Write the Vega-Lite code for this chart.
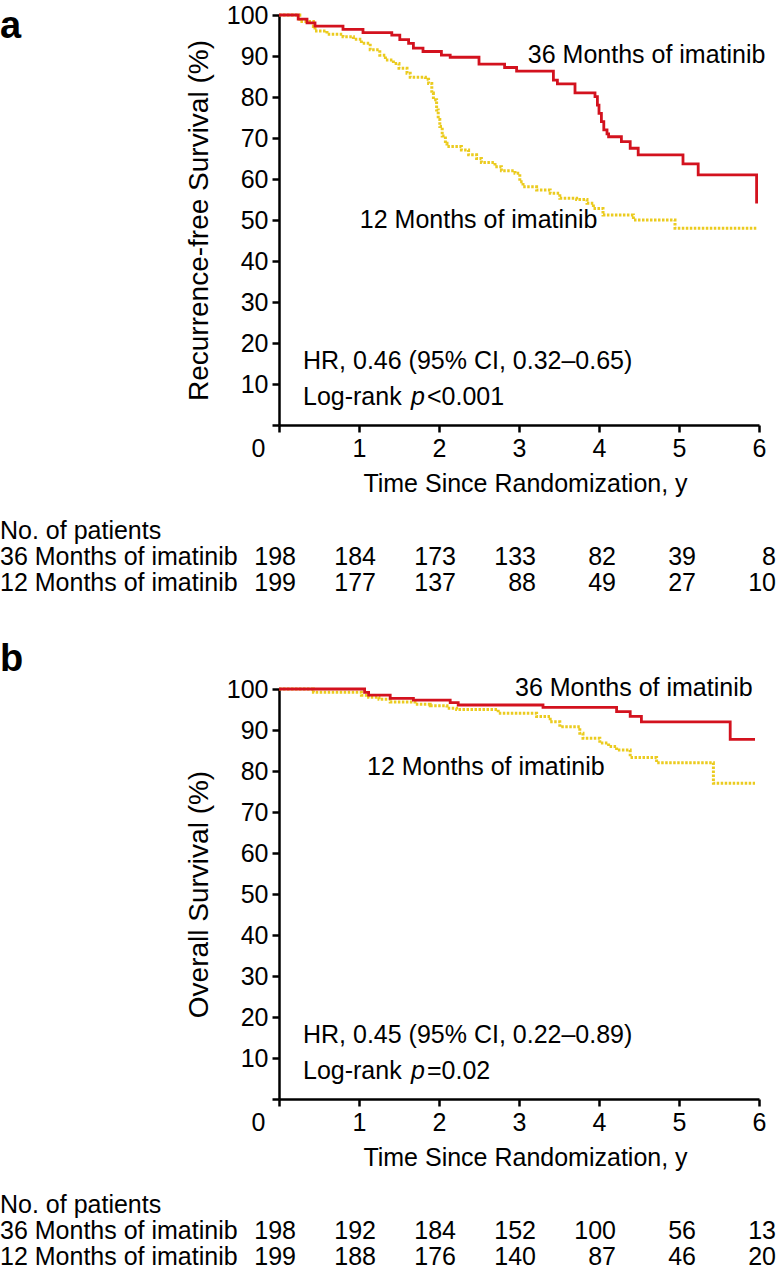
{
  "$schema": "https://vega.github.io/schema/vega-lite/v6.json",
  "padding": {"left": 0, "top": 3, "right": 0, "bottom": 0},
  "bounds": "flush",
  "spacing": 106,
  "config": {
    "font": "Liberation Sans",
    "view": {"stroke": null},
    "text": {"font": "Liberation Sans", "fontSize": 25, "color": "black"},
    "axis": {
      "domainColor": "black", "domainWidth": 2.5, "tickColor": "black", "tickWidth": 2.5, "tickSize": 7,
      "labelFont": "Liberation Sans", "labelFontSize": 25, "labelColor": "black", "labelPadding": 4,
      "titleFont": "Liberation Sans", "titleFontSize": 25, "titleColor": "black", "titleFontWeight": "normal",
      "grid": false
    }
  },
  "datasets": {
    "kmA": [
      {"arm": "36", "t": 0, "s": 100}, {"arm": "36", "t": 0.24, "s": 99.0}, {"arm": "36", "t": 0.35, "s": 98.1},
      {"arm": "36", "t": 0.45, "s": 97.3}, {"arm": "36", "t": 0.8, "s": 96.5}, {"arm": "36", "t": 1.05, "s": 95.7},
      {"arm": "36", "t": 1.41, "s": 95.1}, {"arm": "36", "t": 1.51, "s": 94.0}, {"arm": "36", "t": 1.62, "s": 93.1},
      {"arm": "36", "t": 1.68, "s": 91.9}, {"arm": "36", "t": 1.8, "s": 91.1}, {"arm": "36", "t": 2.03, "s": 90.2},
      {"arm": "36", "t": 2.14, "s": 89.7}, {"arm": "36", "t": 2.5, "s": 88.0}, {"arm": "36", "t": 2.82, "s": 87.2},
      {"arm": "36", "t": 2.97, "s": 86.3}, {"arm": "36", "t": 3.43, "s": 84.1}, {"arm": "36", "t": 3.48, "s": 83.2},
      {"arm": "36", "t": 3.7, "s": 81.0}, {"arm": "36", "t": 3.95, "s": 80.1}, {"arm": "36", "t": 3.98, "s": 78.0},
      {"arm": "36", "t": 4.0, "s": 76.0}, {"arm": "36", "t": 4.03, "s": 74.0}, {"arm": "36", "t": 4.06, "s": 72.0},
      {"arm": "36", "t": 4.1, "s": 71.0}, {"arm": "36", "t": 4.12, "s": 70.3}, {"arm": "36", "t": 4.28, "s": 69.1},
      {"arm": "36", "t": 4.39, "s": 67.5}, {"arm": "36", "t": 4.49, "s": 65.9}, {"arm": "36", "t": 5.05, "s": 63.7},
      {"arm": "36", "t": 5.24, "s": 61.0}, {"arm": "36", "t": 5.97, "s": 54.0},
      {"arm": "12", "t": 0, "s": 100}, {"arm": "12", "t": 0.26, "s": 98.4}, {"arm": "12", "t": 0.43, "s": 97.2},
      {"arm": "12", "t": 0.45, "s": 96.1}, {"arm": "12", "t": 0.6, "s": 95.3}, {"arm": "12", "t": 0.8, "s": 94.7},
      {"arm": "12", "t": 0.93, "s": 94.1}, {"arm": "12", "t": 1.03, "s": 93.1}, {"arm": "12", "t": 1.14, "s": 91.5},
      {"arm": "12", "t": 1.26, "s": 90.2}, {"arm": "12", "t": 1.33, "s": 89.0}, {"arm": "12", "t": 1.43, "s": 88.2},
      {"arm": "12", "t": 1.5, "s": 87.0}, {"arm": "12", "t": 1.6, "s": 85.8}, {"arm": "12", "t": 1.64, "s": 84.8},
      {"arm": "12", "t": 1.83, "s": 84.3}, {"arm": "12", "t": 1.87, "s": 83.3}, {"arm": "12", "t": 1.91, "s": 81.0},
      {"arm": "12", "t": 1.93, "s": 79.3}, {"arm": "12", "t": 1.97, "s": 76.8}, {"arm": "12", "t": 1.99, "s": 74.5},
      {"arm": "12", "t": 2.01, "s": 72.8}, {"arm": "12", "t": 2.04, "s": 70.5}, {"arm": "12", "t": 2.08, "s": 68.7},
      {"arm": "12", "t": 2.1, "s": 67.9}, {"arm": "12", "t": 2.28, "s": 67.1}, {"arm": "12", "t": 2.37, "s": 65.9},
      {"arm": "12", "t": 2.47, "s": 65.0}, {"arm": "12", "t": 2.53, "s": 64.0}, {"arm": "12", "t": 2.7, "s": 63.0},
      {"arm": "12", "t": 2.78, "s": 62.0}, {"arm": "12", "t": 2.95, "s": 61.4}, {"arm": "12", "t": 3.01, "s": 59.3},
      {"arm": "12", "t": 3.05, "s": 58.1}, {"arm": "12", "t": 3.22, "s": 57.3}, {"arm": "12", "t": 3.39, "s": 56.5},
      {"arm": "12", "t": 3.51, "s": 55.3}, {"arm": "12", "t": 3.72, "s": 55.0}, {"arm": "12", "t": 3.85, "s": 54.1},
      {"arm": "12", "t": 3.93, "s": 52.8}, {"arm": "12", "t": 4.05, "s": 51.2}, {"arm": "12", "t": 4.43, "s": 50.0},
      {"arm": "12", "t": 4.95, "s": 48.0}, {"arm": "12", "t": 5.97, "s": 48.0}
    ],
    "kmB": [
      {"arm": "36", "t": 0, "s": 100}, {"arm": "36", "t": 1.07, "s": 99.2}, {"arm": "36", "t": 1.12, "s": 98.5},
      {"arm": "36", "t": 1.39, "s": 97.7}, {"arm": "36", "t": 1.68, "s": 97.3}, {"arm": "36", "t": 2.14, "s": 96.7},
      {"arm": "36", "t": 2.24, "s": 96.1}, {"arm": "36", "t": 3.3, "s": 95.5}, {"arm": "36", "t": 4.22, "s": 94.5},
      {"arm": "36", "t": 4.39, "s": 93.3}, {"arm": "36", "t": 4.53, "s": 92.0}, {"arm": "36", "t": 5.64, "s": 87.7},
      {"arm": "36", "t": 5.95, "s": 87.7},
      {"arm": "12", "t": 0, "s": 100}, {"arm": "12", "t": 0.43, "s": 99.2}, {"arm": "12", "t": 1.03, "s": 98.5},
      {"arm": "12", "t": 1.12, "s": 98.0}, {"arm": "12", "t": 1.25, "s": 97.5}, {"arm": "12", "t": 1.39, "s": 96.8},
      {"arm": "12", "t": 1.7, "s": 96.3}, {"arm": "12", "t": 1.89, "s": 95.9}, {"arm": "12", "t": 2.1, "s": 95.3},
      {"arm": "12", "t": 2.22, "s": 95.0}, {"arm": "12", "t": 2.74, "s": 94.1}, {"arm": "12", "t": 3.22, "s": 93.3},
      {"arm": "12", "t": 3.39, "s": 92.0}, {"arm": "12", "t": 3.51, "s": 90.8}, {"arm": "12", "t": 3.76, "s": 89.2},
      {"arm": "12", "t": 3.8, "s": 88.0}, {"arm": "12", "t": 4.01, "s": 86.8}, {"arm": "12", "t": 4.12, "s": 86.0},
      {"arm": "12", "t": 4.22, "s": 85.1}, {"arm": "12", "t": 4.39, "s": 83.3}, {"arm": "12", "t": 4.72, "s": 82.0},
      {"arm": "12", "t": 5.43, "s": 77.0}, {"arm": "12", "t": 5.95, "s": 77.0}
    ],
    "annA": [
      {"text": "36 Months of imatinib", "t": 3.11, "s": 90.2},
      {"text": "12 Months of imatinib", "t": 1.01, "s": 50.0},
      {"text": "HR, 0.46 (95% CI, 0.32–0.65)", "t": 0.3, "s": 15.5},
      {"text": "Log-rank", "t": 0.3, "s": 6.8},
      {"text": "<0.001", "t": 1.85, "s": 6.8}
    ],
    "annB": [
      {"text": "36 Months of imatinib", "t": 2.95, "s": 100.2},
      {"text": "12 Months of imatinib", "t": 1.1, "s": 81.0},
      {"text": "HR, 0.45 (95% CI, 0.22–0.89)", "t": 0.3, "s": 15.5},
      {"text": "Log-rank", "t": 0.3, "s": 6.8},
      {"text": "=0.02", "t": 1.85, "s": 6.8}
    ],
    "pItalic": [{"text": "p", "t": 1.65, "s": 6.8}],
    "rows": [
      {"row": "No. of patients"},
      {"row": "36 Months of imatinib"},
      {"row": "12 Months of imatinib"}
    ],
    "riskA": [
      {"row": "36 Months of imatinib", "t": 0, "n": 198}, {"row": "36 Months of imatinib", "t": 1, "n": 184},
      {"row": "36 Months of imatinib", "t": 2, "n": 173}, {"row": "36 Months of imatinib", "t": 3, "n": 133},
      {"row": "36 Months of imatinib", "t": 4, "n": 82}, {"row": "36 Months of imatinib", "t": 5, "n": 39},
      {"row": "36 Months of imatinib", "t": 6, "n": 8},
      {"row": "12 Months of imatinib", "t": 0, "n": 199}, {"row": "12 Months of imatinib", "t": 1, "n": 177},
      {"row": "12 Months of imatinib", "t": 2, "n": 137}, {"row": "12 Months of imatinib", "t": 3, "n": 88},
      {"row": "12 Months of imatinib", "t": 4, "n": 49}, {"row": "12 Months of imatinib", "t": 5, "n": 27},
      {"row": "12 Months of imatinib", "t": 6, "n": 10}
    ],
    "riskB": [
      {"row": "36 Months of imatinib", "t": 0, "n": 198}, {"row": "36 Months of imatinib", "t": 1, "n": 192},
      {"row": "36 Months of imatinib", "t": 2, "n": 184}, {"row": "36 Months of imatinib", "t": 3, "n": 152},
      {"row": "36 Months of imatinib", "t": 4, "n": 100}, {"row": "36 Months of imatinib", "t": 5, "n": 56},
      {"row": "36 Months of imatinib", "t": 6, "n": 13},
      {"row": "12 Months of imatinib", "t": 0, "n": 199}, {"row": "12 Months of imatinib", "t": 1, "n": 188},
      {"row": "12 Months of imatinib", "t": 2, "n": 176}, {"row": "12 Months of imatinib", "t": 3, "n": 140},
      {"row": "12 Months of imatinib", "t": 4, "n": 87}, {"row": "12 Months of imatinib", "t": 5, "n": 46},
      {"row": "12 Months of imatinib", "t": 6, "n": 20}
    ],
    "letterA": [{"letter": "a"}],
    "letterB": [{"letter": "b"}]
  },
  "vconcat": [
    {
      "width": 480, "height": 410,
      "layer": [
        {"data": {"name": "kmA"}, "transform": [{"filter": "datum.arm === '12'"}],
          "mark": {"type": "line", "interpolate": "step-after", "color": "#EBCB1F", "strokeWidth": 3, "strokeDash": [2.5, 1.5]},
          "encoding": {
            "x": {"field": "t", "type": "quantitative", "scale": {"domain": [0, 6], "nice": false},
              "axis": {"values": [0, 1, 2, 3, 4, 5, 6], "format": "d", "title": "Time Since Randomization, y", "labelFlush": false,
                "labelOffset": {"condition": {"test": "datum.value === 0", "value": -21}, "value": 0}, "titlePadding": 10, "titleX": 246}},
            "y": {"field": "s", "type": "quantitative", "scale": {"domain": [0, 100], "nice": false},
              "axis": {"values": [0, 10, 20, 30, 40, 50, 60, 70, 80, 90, 100], "format": "d", "labelExpr": "datum.value === 0 ? '' : datum.label",
                "title": "Recurrence-free Survival (%)", "titleFontSize": 28, "titlePadding": 13}}
          }},
        {"data": {"name": "kmA"}, "transform": [{"filter": "datum.arm === '36'"}],
          "mark": {"type": "line", "interpolate": "step-after", "color": "#D3121E", "strokeWidth": 2.8},
          "encoding": {"x": {"field": "t", "type": "quantitative"}, "y": {"field": "s", "type": "quantitative"}}},
        {"data": {"name": "annA"}, "mark": {"type": "text", "align": "left", "baseline": "middle"},
          "encoding": {"x": {"field": "t", "type": "quantitative"}, "y": {"field": "s", "type": "quantitative"}, "text": {"field": "text"}}},
        {"data": {"name": "pItalic"}, "mark": {"type": "text", "align": "left", "baseline": "middle", "fontStyle": "italic"},
          "encoding": {"x": {"field": "t", "type": "quantitative"}, "y": {"field": "s", "type": "quantitative"}, "text": {"field": "text"}}},
        {"data": {"name": "letterA"}, "mark": {"type": "text", "fontWeight": "bold", "fontSize": 38, "align": "left", "baseline": "alphabetic", "dx": -279, "dy": 23},
          "encoding": {"x": {"datum": 0, "type": "quantitative"}, "y": {"datum": 100, "type": "quantitative"}, "text": {"field": "letter"}}}
      ]
    },
    {
      "width": 480, "height": 52,
      "layer": [
        {"data": {"name": "rows"}, "mark": {"type": "text", "align": "left", "baseline": "middle", "dx": -279},
          "encoding": {
            "x": {"datum": 0, "type": "quantitative", "scale": {"domain": [0, 6], "nice": false}, "axis": null},
            "y": {"field": "row", "type": "ordinal", "scale": {"type": "point", "domain": ["No. of patients", "36 Months of imatinib", "12 Months of imatinib"], "padding": 0}, "axis": null},
            "text": {"field": "row"}}},
        {"data": {"name": "riskA"}, "mark": {"type": "text", "align": "right", "baseline": "middle", "dx": 17},
          "encoding": {
            "x": {"field": "t", "type": "quantitative", "scale": {"domain": [0, 6], "nice": false}, "axis": null},
            "y": {"field": "row", "type": "ordinal", "scale": {"type": "point", "domain": ["No. of patients", "36 Months of imatinib", "12 Months of imatinib"], "padding": 0}, "axis": null},
            "text": {"field": "n"}}}
      ]
    },
    {
      "width": 480, "height": 410,
      "layer": [
        {"data": {"name": "kmB"}, "transform": [{"filter": "datum.arm === '12'"}],
          "mark": {"type": "line", "interpolate": "step-after", "color": "#EBCB1F", "strokeWidth": 3, "strokeDash": [2.5, 1.5]},
          "encoding": {
            "x": {"field": "t", "type": "quantitative", "scale": {"domain": [0, 6], "nice": false},
              "axis": {"values": [0, 1, 2, 3, 4, 5, 6], "format": "d", "title": "Time Since Randomization, y", "labelFlush": false,
                "labelOffset": {"condition": {"test": "datum.value === 0", "value": -21}, "value": 0}, "titlePadding": 10, "titleX": 246}},
            "y": {"field": "s", "type": "quantitative", "scale": {"domain": [0, 100], "nice": false},
              "axis": {"values": [0, 10, 20, 30, 40, 50, 60, 70, 80, 90, 100], "format": "d", "labelExpr": "datum.value === 0 ? '' : datum.label",
                "title": "Overall Survival (%)", "titleFontSize": 28, "titlePadding": 13}}
          }},
        {"data": {"name": "kmB"}, "transform": [{"filter": "datum.arm === '36'"}],
          "mark": {"type": "line", "interpolate": "step-after", "color": "#D3121E", "strokeWidth": 2.8},
          "encoding": {"x": {"field": "t", "type": "quantitative"}, "y": {"field": "s", "type": "quantitative"}}},
        {"data": {"name": "annB"}, "mark": {"type": "text", "align": "left", "baseline": "middle"},
          "encoding": {"x": {"field": "t", "type": "quantitative"}, "y": {"field": "s", "type": "quantitative"}, "text": {"field": "text"}}},
        {"data": {"name": "pItalic"}, "mark": {"type": "text", "align": "left", "baseline": "middle", "fontStyle": "italic"},
          "encoding": {"x": {"field": "t", "type": "quantitative"}, "y": {"field": "s", "type": "quantitative"}, "text": {"field": "text"}}},
        {"data": {"name": "letterB"}, "mark": {"type": "text", "fontWeight": "bold", "fontSize": 38, "align": "left", "baseline": "alphabetic", "dx": -279, "dy": -18},
          "encoding": {"x": {"datum": 0, "type": "quantitative"}, "y": {"datum": 100, "type": "quantitative"}, "text": {"field": "letter"}}}
      ]
    },
    {
      "width": 480, "height": 52,
      "layer": [
        {"data": {"name": "rows"}, "mark": {"type": "text", "align": "left", "baseline": "middle", "dx": -279},
          "encoding": {
            "x": {"datum": 0, "type": "quantitative", "scale": {"domain": [0, 6], "nice": false}, "axis": null},
            "y": {"field": "row", "type": "ordinal", "scale": {"type": "point", "domain": ["No. of patients", "36 Months of imatinib", "12 Months of imatinib"], "padding": 0}, "axis": null},
            "text": {"field": "row"}}},
        {"data": {"name": "riskB"}, "mark": {"type": "text", "align": "right", "baseline": "middle", "dx": 17},
          "encoding": {
            "x": {"field": "t", "type": "quantitative", "scale": {"domain": [0, 6], "nice": false}, "axis": null},
            "y": {"field": "row", "type": "ordinal", "scale": {"type": "point", "domain": ["No. of patients", "36 Months of imatinib", "12 Months of imatinib"], "padding": 0}, "axis": null},
            "text": {"field": "n"}}}
      ]
    }
  ]
}
